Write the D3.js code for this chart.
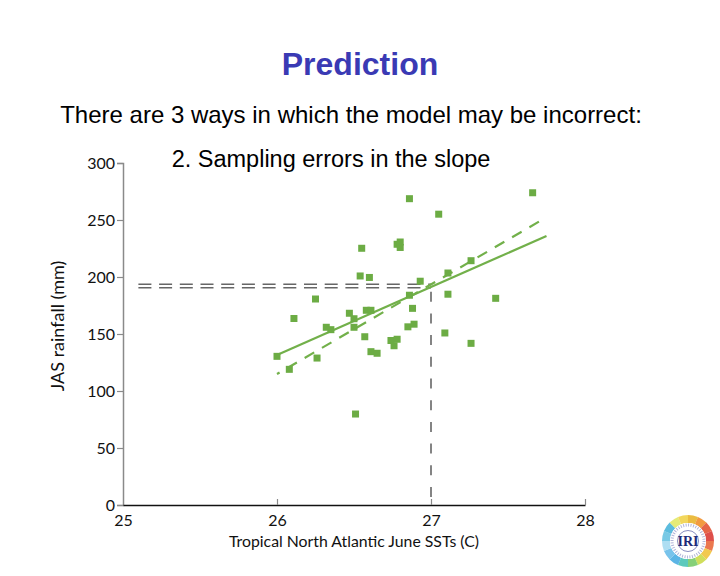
<!DOCTYPE html>
<html><head><meta charset="utf-8">
<script src="https://cdn.jsdelivr.net/npm/d3@7"></script>
<style>body{margin:0;background:#fff}svg{display:block}</style>
</head><body>
<svg id="c" width="720" height="576"></svg>
<script>
// ---- data ----
const sstJune = [26.00,26.08,26.11,26.25,26.26,26.32,26.35,26.47,26.50,26.50,26.55,26.54,26.60,26.57,26.58,26.61,26.61,26.65,26.74,26.76,26.78,26.78,26.80,26.80,26.86,26.86,26.88,26.85,26.89,26.93,27.05,27.11,27.11,27.09,27.26,27.26,27.42,27.66,26.51];
const jasRain = [130.4,119.0,163.6,180.7,128.9,155.9,153.8,168.2,155.9,163.4,225.2,200.9,199.6,147.6,170.8,170.8,134.5,133.1,144.3,139.7,145.4,228.7,230.7,225.9,268.7,184.0,172.5,156.3,158.6,196.3,255.1,203.5,184.9,150.9,214.3,141.8,181.3,273.9,79.8];
const fitLineX = [26.0, 27.75];
const fitLineY = [131.6, 236.0];
const altLineX = [26.0, 27.75];
const altLineY = [114.9, 252.4];
const predX = 27;
const predY = [190.6, 193.6];
const guideStartX = 25.1;
const xTicks = [25, 26, 27, 28];
const yTicks = [0, 50, 100, 150, 200, 250, 300];
const titleText = "Prediction";
const subText = "There are 3 ways in which the model may be incorrect:";
const pointText = "2. Sampling errors in the slope";
const xLabel = "Tropical North Atlantic June SSTs (C)";
const yLabel = "JAS rainfall (mm)";

const svg = d3.select("#c");
const x = d3.scaleLinear().domain([25, 28]).range([123, 585]);
const y = d3.scaleLinear().domain([0, 300]).range([505, 163]);
const green = "#6cac44";
const axisFont = "Lato, 'Open Sans', sans-serif";

// titles
svg.append("text").attr("x", 360).attr("y", 75).attr("text-anchor", "middle")
  .attr("font-family", "'Liberation Sans', Arial, sans-serif").attr("font-weight", "bold")
  .attr("font-size", 32).attr("fill", "#3a3ab4").text(titleText);
svg.append("text").attr("x", 351).attr("y", 123).attr("text-anchor", "middle")
  .attr("font-family", "'Liberation Sans', Arial, sans-serif")
  .attr("font-size", 24).attr("fill", "#000").text(subText);
svg.append("text").attr("x", 331).attr("y", 167).attr("text-anchor", "middle")
  .attr("font-family", "'Liberation Sans', Arial, sans-serif")
  .attr("font-size", 23.5).attr("fill", "#000").text(pointText);

// y axis
const yAxis = d3.axisLeft(y).tickValues(yTicks).tickSize(6).tickPadding(2);
const gy = svg.append("g").attr("transform", `translate(${x(25)},0)`).call(yAxis);
gy.select(".domain").attr("stroke", "#8a8a8a").attr("stroke-width", 1.5);
gy.selectAll(".tick line").attr("stroke", "#8a8a8a").attr("stroke-width", 1.2);
gy.selectAll(".tick text").attr("font-family", axisFont).attr("font-size", 16).attr("fill", "#111");

// x axis
const xAxis = d3.axisBottom(x).tickValues(xTicks).tickFormat(d3.format("d")).tickSize(0).tickPadding(10);
const gx = svg.append("g").attr("transform", `translate(0,${y(0)})`).call(xAxis);
gx.select(".domain").attr("stroke", "#111").attr("stroke-width", 1.5);
gx.selectAll(".tick text").attr("font-family", axisFont).attr("font-size", 16).attr("fill", "#111");
gx.selectAll(".tick").filter(d => d !== 25).append("line")
  .attr("y1", 0).attr("y2", -6).attr("stroke", "#8a8a8a").attr("stroke-width", 1.2);

// axis labels
svg.append("text").attr("x", 354).attr("y", 547).attr("text-anchor", "middle")
  .attr("font-family", axisFont).attr("font-size", 15.8).attr("fill", "#111").text(xLabel);
svg.append("text").attr("transform", `translate(64,${y(157)}) rotate(-90)`)
  .attr("text-anchor", "middle").attr("font-family", axisFont).attr("font-size", 18)
  .attr("fill", "#111").text(yLabel);

// prediction guide lines
predY.forEach(v => {
  svg.append("line").attr("x1", x(guideStartX)).attr("x2", x(predX))
    .attr("y1", y(v)).attr("y2", y(v))
    .attr("stroke", "#666").attr("stroke-width", 1.6).attr("stroke-dasharray", "13,7.7");
});
svg.append("line").attr("x1", x(predX)).attr("x2", x(predX))
  .attr("y1", y(d3.min(predY))).attr("y2", y(0))
  .attr("stroke", "#666").attr("stroke-width", 1.6).attr("stroke-dasharray", "10,11.7")
  .attr("stroke-dashoffset", -4);

// regression lines
const line = d3.line().x(d => x(d[0])).y(d => y(d[1]));
svg.append("path").datum(fitLineX.map((v, i) => [v, fitLineY[i]]))
  .attr("d", line).attr("fill", "none").attr("stroke", "#72b04a").attr("stroke-width", 2.2);
svg.append("path").datum(altLineX.map((v, i) => [v, altLineY[i]]))
  .attr("d", line).attr("fill", "none").attr("stroke", "#72b04a").attr("stroke-width", 2.2)
  .attr("stroke-dasharray", "11,9").attr("stroke-dashoffset", 8);

// points
const s = 7;
svg.append("g").selectAll("rect").data(sstJune.map((v, i) => [v, jasRain[i]])).join("rect")
  .attr("x", d => x(d[0]) - s / 2).attr("y", d => y(d[1]) - s / 2)
  .attr("width", s).attr("height", s).attr("fill", green);

// IRI logo
const logo = svg.append("g").attr("transform", "translate(688,541)");
const ringColors = ["#e8b020","#f08a20","#e04a28","#d8302a","#e86030","#f0c030","#c8d840","#70c860","#40c0b0","#40a8e0","#60b8e8","#a0d8f0","#60c0e0","#40b0d8","#e0e860","#f0d040"];
const arc = d3.arc().innerRadius(18).outerRadius(26);
const pie = d3.pie().value(1).sort(null);
logo.selectAll("path").data(pie(ringColors)).join("path")
  .attr("d", arc).attr("fill", d => d.data).attr("opacity", 0.85);
logo.append("circle").attr("r", 18).attr("fill", "#fff");
logo.append("circle").attr("r", 16).attr("fill", "none").attr("stroke", "#b0b4d8").attr("stroke-width", 3).attr("stroke-dasharray", "1,1.5");
logo.append("circle").attr("r", 10.5).attr("fill", "#fff").attr("stroke", "#6a6fae").attr("stroke-width", 0.8);
logo.append("text").attr("y", 5).attr("text-anchor", "middle")
  .attr("font-family", "'Liberation Serif', serif").attr("font-weight", "bold")
  .attr("font-size", 14).attr("fill", "#1e2a78").text("IRI");
</script>
</body></html>
